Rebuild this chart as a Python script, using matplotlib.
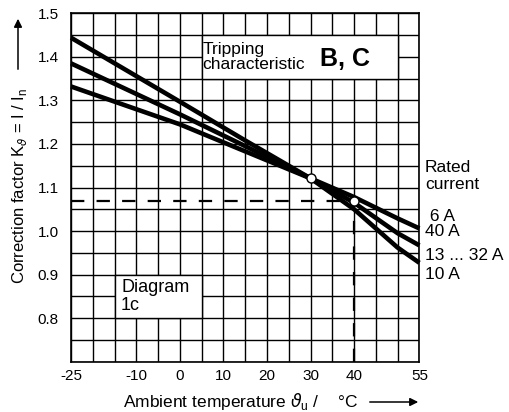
import numpy as np
import matplotlib
matplotlib.use("Agg")
import matplotlib.pyplot as plt
from matplotlib.patches import Rectangle

plt.rcParams['font.family'] = ['Liberation Sans', 'DejaVu Sans']
plt.rcParams['font.size'] = 10.5

# temperatures (deg C) where the curves were read
temp = [-25, 0, 15, 30, 40, 50, 55]
# correction factor, three curves
k_steep = [1.444, 1.297, 1.208, 1.121, 1.050, 0.962, 0.927]
k_mid = [1.385, 1.268, 1.195, 1.121, 1.065, 0.995, 0.967]
k_flat = [1.332, 1.245, 1.183, 1.121, 1.078, 1.029, 1.006]

# marked points and the read-off lines
mark_t = [30, 40]
mark_k = [1.121, 1.069]
ref_t = 40
ref_k = 1.07

x_labels = {-25: '-25', -10: '-10', 0: '0', 10: '10', 20: '20', 30: '30', 40: '40', 55: '55'}
y_labels = [0.8, 0.9, 1.0, 1.1, 1.2, 1.3, 1.4, 1.5]

rated = [('Rated', 1.145), ('current', 1.106), (' 6 A', 1.033), ('40 A', 0.998),
         ('13 ... 32 A', 0.944), ('10 A', 0.90)]

fig = plt.figure(figsize=(5.09, 4.12), dpi=100)
ax = fig.add_axes([0.1395, 0.1221, 0.6845, 0.8456])

ax.set_xlim(-25, 55)
ax.set_ylim(0.7, 1.5)

xt = np.arange(-25, 56, 5)
ax.set_xticks(xt)
ax.set_xticklabels([x_labels.get(int(v), '') for v in xt])
yt = np.round(np.arange(0.7, 1.501, 0.05), 2)
ax.set_yticks(yt)
ax.set_yticklabels(['%.1f' % v if any(abs(v - l) < 1e-6 for l in y_labels) else '' for v in yt])
ax.tick_params(length=0, labelsize=11)
ax.tick_params(axis='y', pad=9)
ax.tick_params(axis='x', pad=5)
ax.grid(True, color='black', lw=1.0, zorder=0)
ax.set_axisbelow(True)
for s in ax.spines.values():
    s.set_linewidth(1.2)

# white label boxes that hide the grid
ax.add_patch(Rectangle((5, 1.35), 45, 0.1, facecolor='white', edgecolor='black', lw=1.0, zorder=1))
ax.add_patch(Rectangle((-15, 0.8), 20, 0.1, facecolor='white', edgecolor='black', lw=1.0, zorder=1))
ax.text(5.2, 1.40, 'Tripping\ncharacteristic', ha='left', va='center', fontsize=12.5,
        linespacing=0.95, zorder=3)
ax.text(38, 1.395, 'B, C', ha='center', va='center', fontsize=18, fontweight='bold', zorder=3)
ax.text(-13.5, 0.85, 'Diagram\n1c', ha='left', va='center', fontsize=13, linespacing=1.05, zorder=3)

# dashed read-off lines
ax.plot([-25, ref_t], [ref_k, ref_k], color='black', lw=1.6, dashes=(6, 5.5), zorder=2)
ax.plot([ref_t, ref_t], [0.7, ref_k], color='black', lw=1.6, dashes=(6, 5.5), zorder=2)

for k in (k_steep, k_mid, k_flat):
    ax.plot(temp, k, color='black', lw=3.3, solid_capstyle='butt', solid_joinstyle='round',
            zorder=4, clip_on=False)

ax.plot(mark_t, mark_k, 'o', ms=6.5, mfc='white', mec='black', mew=1.0, zorder=5)

for txt, yv in rated:
    ax.text(56.3, yv, txt, ha='left', va='center', fontsize=12.5, clip_on=False)

# axis titles with arrows
fig.text(20 / 509, 1 - 186 / 412, r'Correction factor K$_{\vartheta}$ = I / I$_{\mathregular{n}}$',
         rotation=90, ha='center', va='center', fontsize=12)
fig.text(123 / 509, 1 - 402 / 412, r'Ambient temperature $\vartheta_{\mathregular{u}}$ /    °C',
         ha='left', va='center', fontsize=12.5)
ax.annotate('', xy=(18, 412 - 16), xytext=(18, 412 - 72), xycoords='figure pixels',
            textcoords='figure pixels',
            arrowprops=dict(arrowstyle='-|>', color='black', lw=1.1, mutation_scale=12))
ax.annotate('', xy=(421, 412 - 402), xytext=(367, 412 - 402), xycoords='figure pixels',
            textcoords='figure pixels',
            arrowprops=dict(arrowstyle='-|>', color='black', lw=1.1, mutation_scale=12))

fig.savefig('out.png', dpi=100)
